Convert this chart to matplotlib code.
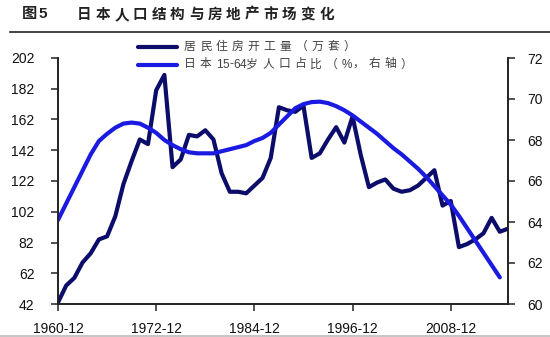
import matplotlib
matplotlib.use("Agg")
import matplotlib.pyplot as plt
from matplotlib.lines import Line2D

# annual data, 1960-2015
years = list(range(1960, 2016))
starts = [43, 54, 59, 69, 75, 84, 86, 99, 120, 135,
          149, 146, 181, 191, 131, 136, 152, 151, 155, 149,
          127, 115, 115, 114, 119, 124, 137, 170, 168, 167,
          171, 137, 140, 149, 157, 147, 164, 139, 118, 121,
          123, 117, 115, 116, 119, 124, 129, 106, 109, 79,
          81, 84, 88, 98, 89, 91]

# working-age share runs 1960-2014
share_years = list(range(1960, 2015))
share = [64.1, 64.9, 65.7, 66.5, 67.3, 67.95, 68.3, 68.6, 68.8, 68.85,
         68.8, 68.6, 68.35, 68.0, 67.75, 67.55, 67.4, 67.35, 67.35, 67.35,
         67.45, 67.55, 67.65, 67.75, 67.95, 68.1, 68.35, 68.75, 69.15, 69.55,
         69.75, 69.85, 69.87, 69.8, 69.65, 69.45, 69.2, 68.9, 68.6, 68.3,
         67.95, 67.6, 67.3, 66.95, 66.6, 66.2, 65.75, 65.3, 64.85, 64.3,
         63.7, 63.1, 62.5, 61.9, 61.3]

xticks = [1960, 1972, 1984, 1996, 2008]
xlabels = ["1960-12", "1972-12", "1984-12", "1996-12", "2008-12"]
left_ticks = list(range(42, 203, 20))
right_ticks = list(range(60, 73, 2))

title_no = "图5"
title = "日本人口结构与房地产市场变化"
legend_labels = ["居民住房开工量（万套）", "日本15-64岁人口占比（%，右轴）"]

dark = "#0c0c6a"
blue = "#1a1ae0"
W, H = 550, 337

fig = plt.figure(figsize=(W / 100, H / 100), dpi=100)
fig.patch.set_facecolor("white")
renderer = fig.canvas.get_renderer()


def spaced_text(x, y, s, tracking, **kw):
    # draw a string char by char, adding extra spacing after wide glyphs
    for ch in s:
        t = fig.text(x / W, 1 - y / H, ch, va="center", ha="left", **kw)
        w = t.get_window_extent(renderer).width
        x += w + (tracking if ord(ch) > 0x2000 else 0)


cjk = ["Liberation Sans", "Noto Sans CJK SC"]

spaced_text(22, 14, title_no, 1, family=cjk, fontsize=11, fontweight="bold", color="#222222")
spaced_text(77, 14, title, 4, family=["Noto Sans CJK SC"], fontsize=10.5, fontweight="bold",
            color="#222222")
fig.add_artist(Line2D([10 / W, 1], [1 - 31.5 / H] * 2, color="#222222", lw=1.2))
fig.add_artist(Line2D([0, 1], [1 - 335.5 / H] * 2, color="#bbbbbb", lw=1.2))

ax = fig.add_axes([58 / W, 1 - 304 / H, 450 / W, 246 / H])
ax2 = ax.twinx()

ax.plot(years, starts, color=dark, lw=3.0, solid_joinstyle="round", solid_capstyle="round")
ax2.plot(share_years, share, color=blue, lw=3.0, solid_joinstyle="round", solid_capstyle="round")

ax.set_xlim(1960, 2015)
ax.set_ylim(42, 202)
ax2.set_ylim(60, 72)
ax.set_xticks(xticks)
ax.set_xticklabels(xlabels)
ax.set_yticks(left_ticks)
ax2.set_yticks(right_ticks)

for a in (ax, ax2):
    a.spines["top"].set_visible(False)
    for sp in a.spines.values():
        sp.set_color("#222222")
        sp.set_linewidth(1.2)
    a.tick_params(direction="out", length=5, width=1.1, color="#222222",
                  labelsize=10, labelcolor="#111111")
    for lab in a.get_xticklabels() + a.get_yticklabels():
        lab.set_family("Liberation Sans")
ax.tick_params(axis="y", pad=12)
ax.tick_params(axis="x", pad=8)
ax2.tick_params(axis="y", pad=9)

# legend drawn by hand at the top of the plot area
for i, (lab, col) in enumerate(zip(legend_labels, [dark, blue])):
    y = 47 + i * 17.5
    fig.add_artist(Line2D([138 / W, 177 / W], [1 - y / H] * 2, color=col, lw=3.0,
                          solid_capstyle="round"))
    spaced_text(184, y, lab, 4.2, family=cjk, fontsize=8.5, color="#404040")

fig.savefig("out.png", dpi=100)
